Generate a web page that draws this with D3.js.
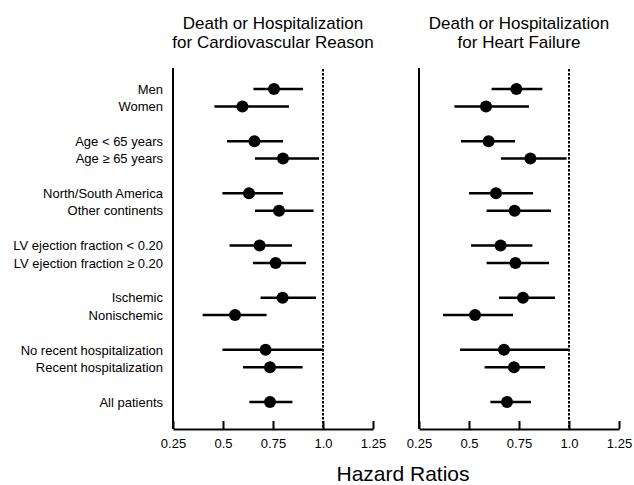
<!DOCTYPE html>
<html>
<head>
<meta charset="utf-8">
<script src="https://cdn.jsdelivr.net/npm/d3@7"></script>
<style>
  body { margin: 0; background: #fff; }
  svg { font-family: "Liberation Sans", Arial, Helvetica, sans-serif; }
  .axis path, .axis line { stroke: #000; stroke-width: 2; }
  .axis text { font-size: 13px; fill: #000; }
</style>
</head>
<body>
<svg width="634" height="485"></svg>
<script>
var groups = [
  ["Men", "Women"],
  ["Age < 65 years", "Age \u2265 65 years"],
  ["North/South America", "Other continents"],
  ["LV ejection fraction < 0.20", "LV ejection fraction \u2265 0.20"],
  ["Ischemic", "Nonischemic"],
  ["No recent hospitalization", "Recent hospitalization"],
  ["All patients"]
];

// Death or hospitalization for cardiovascular reason
var cvPoint = [0.755, 0.597, 0.657, 0.80, 0.63, 0.78, 0.683, 0.763, 0.798, 0.56, 0.713, 0.735, 0.735];
var cvLow   = [0.652, 0.457, 0.52, 0.66, 0.497, 0.66, 0.533, 0.65, 0.688, 0.398, 0.497, 0.60, 0.632];
var cvHigh  = [0.90, 0.83, 0.80, 0.98, 0.80, 0.953, 0.845, 0.915, 0.965, 0.718, 1.0, 0.898, 0.847];

// Death or hospitalization for heart failure
var hfPoint = [0.737, 0.585, 0.598, 0.807, 0.635, 0.728, 0.658, 0.732, 0.77, 0.53, 0.675, 0.725, 0.69];
var hfLow   = [0.613, 0.427, 0.46, 0.66, 0.50, 0.588, 0.51, 0.588, 0.65, 0.37, 0.455, 0.578, 0.607];
var hfHigh  = [0.867, 0.80, 0.73, 0.988, 0.82, 0.91, 0.817, 0.90, 0.93, 0.72, 1.0, 0.88, 0.81];

var titles = [
  ["Death or Hospitalization", "for Cardiovascular Reason"],
  ["Death or Hospitalization", "for Heart Failure"]
];
var tickValues = [0.25, 0.5, 0.75, 1.0, 1.25];
var tickLabels = ["0.25", "0.5", "0.75", "1.0", "1.25"];
var xTitle = "Hazard Ratios";

var svg = d3.select("svg");

// rows: two per group, one empty slot between groups
var rows = [];
groups.forEach(function(g, gi) {
  g.forEach(function(label, k) {
    rows.push({ label: label, slot: gi * 3 + k });
  });
});

var y = d3.scaleLinear().domain([0, 18]).range([89, 402]);
var axisY = 429, axisTop = 68;

var panels = [
  { title: titles[0], point: cvPoint, low: cvLow, high: cvHigh,
    x: d3.scaleLinear().domain([0.25, 1.25]).range([173, 373]) },
  { title: titles[1], point: hfPoint, low: hfLow, high: hfHigh,
    x: d3.scaleLinear().domain([0.25, 1.25]).range([419, 619]) }
];

// row labels
svg.append("g").selectAll("text")
  .data(rows)
  .enter().append("text")
  .attr("x", 163)
  .attr("y", function(d) { return y(d.slot); })
  .attr("dy", "0.36em")
  .attr("text-anchor", "end")
  .style("font-size", "13px")
  .text(function(d) { return d.label; });

panels.forEach(function(p) {
  var x = p.x;
  var g = svg.append("g");
  var cx = (x.range()[0] + x.range()[1]) / 2;

  p.title.forEach(function(line, i) {
    g.append("text")
      .attr("x", cx).attr("y", 28.5 + i * 19)
      .attr("text-anchor", "middle")
      .style("font-size", "17px")
      .text(line);
  });

  g.append("g")
    .attr("class", "axis")
    .attr("transform", "translate(0," + axisY + ")")
    .call(d3.axisBottom(x)
      .tickValues(tickValues)
      .tickFormat(function(d, i) { return tickLabels[i]; })
      .tickSizeInner(-8)
      .tickSizeOuter(0)
      .tickPadding(10))
    .call(function(a) { a.attr("font-family", null).attr("font-size", null); });

  // vertical axis at 0.25
  g.append("line")
    .attr("x1", x(0.25)).attr("x2", x(0.25))
    .attr("y1", axisTop).attr("y2", axisY)
    .attr("stroke", "#000").attr("stroke-width", 2);

  // reference line at 1.0
  g.append("line")
    .attr("x1", x(1.0)).attr("x2", x(1.0))
    .attr("y1", axisTop + 1).attr("y2", axisY)
    .attr("stroke", "#000").attr("stroke-width", 2)
    .attr("stroke-dasharray", "2.5,1.5");

  var rowG = g.selectAll(".row")
    .data(rows)
    .enter().append("g")
    .attr("class", "row");

  rowG.append("line")
    .attr("x1", function(d, i) { return x(p.low[i]); })
    .attr("x2", function(d, i) { return x(p.high[i]); })
    .attr("y1", function(d) { return y(d.slot); })
    .attr("y2", function(d) { return y(d.slot); })
    .attr("stroke", "#000")
    .attr("stroke-width", 2.5);

  rowG.append("circle")
    .attr("cx", function(d, i) { return x(p.point[i]); })
    .attr("cy", function(d) { return y(d.slot); })
    .attr("r", 6)
    .attr("fill", "#000");
});

svg.append("text")
  .attr("x", 403).attr("y", 481)
  .attr("text-anchor", "middle")
  .style("font-size", "21px")
  .text(xTitle);
</script>
</body>
</html>
